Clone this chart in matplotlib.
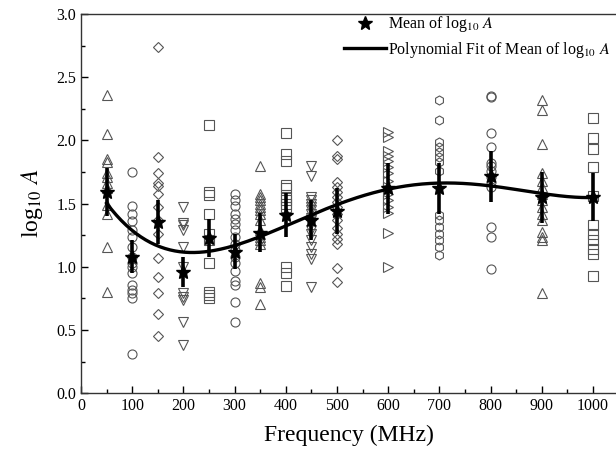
import numpy as np
import matplotlib
matplotlib.use("Agg")
import matplotlib.pyplot as plt
from matplotlib.ticker import MultipleLocator

plt.rcParams['font.family'] = ['Liberation Serif', 'DejaVu Serif']
plt.rcParams['mathtext.fontset'] = 'stix'

# ---- data ----
freqs = [50, 100, 150, 200, 250, 300, 350, 400, 450, 500, 600, 700, 800, 900, 1000]
markers = ['^', 'o', 'D', 'v', 's', 'o', '^', 's', 'v', 'D', '>', 'h', 'o', '^', 's']

f50 = [2.36, 2.05, 1.85, 1.83, 1.74, 1.71, 1.66, 1.62, 1.49, 1.42, 1.16, 0.80]
f100 = [1.75, 1.48, 1.42, 1.36, 1.29, 1.24, 1.16, 1.08, 1.03, 1.00, 0.95, 0.855, 0.815, 0.79, 0.75, 0.31]
f150 = [2.74, 1.87, 1.74, 1.66, 1.64, 1.58, 1.47, 1.37, 1.26, 1.07, 0.92, 0.79, 0.63, 0.45]
f200 = [1.47, 1.35, 1.33, 1.29, 1.16, 1.00, 0.79, 0.76, 0.74, 0.565, 0.38]
f250 = [2.125, 1.59, 1.565, 1.42, 1.26, 1.21, 1.03, 0.80, 0.776, 0.75]
f300 = [1.58, 1.53, 1.48, 1.42, 1.38, 1.34, 1.29, 1.24, 1.18, 1.13, 1.08, 1.03, 0.97, 0.89, 0.855, 0.72, 0.565]
f350 = [1.80, 1.58, 1.55, 1.525, 1.50, 1.47, 1.45, 1.42, 1.37, 1.29, 1.26, 1.24, 1.21, 1.18, 0.87, 0.84, 0.71]
f400 = [2.06, 1.89, 1.84, 1.65, 1.62, 1.55, 1.525, 1.50, 1.47, 1.00, 0.95, 0.85]
f450 = [1.80, 1.72, 1.55, 1.53, 1.50, 1.47, 1.45, 1.42, 1.39, 1.37, 1.34, 1.29, 1.26, 1.21, 1.16, 1.10, 1.065, 0.84]
f500 = [2.00, 1.88, 1.855, 1.67, 1.63, 1.59, 1.55, 1.51, 1.47, 1.42, 1.37, 1.31, 1.26, 1.22, 1.18, 0.99, 0.88]
f600 = [2.065, 2.025, 1.92, 1.88, 1.84, 1.79, 1.74, 1.68, 1.63, 1.58, 1.525, 1.47, 1.43, 1.27, 1.00]
f700 = [2.32, 2.165, 1.985, 1.95, 1.91, 1.87, 1.83, 1.76, 1.41, 1.37, 1.315, 1.26, 1.21, 1.16, 1.09]
f800 = [2.35, 2.34, 2.06, 1.95, 1.82, 1.80, 1.76, 1.71, 1.67, 1.63, 1.315, 1.24, 0.98]
f900 = [2.32, 2.24, 1.97, 1.74, 1.68, 1.63, 1.58, 1.525, 1.47, 1.42, 1.37, 1.275, 1.24, 1.21, 0.79]
f1000 = [2.18, 2.02, 1.93, 1.79, 1.56, 1.33, 1.26, 1.21, 1.145, 1.105, 0.925]
samples = [f50, f100, f150, f200, f250, f300, f350, f400, f450, f500,
           f600, f700, f800, f900, f1000]

means = [1.59, 1.08, 1.355, 0.96, 1.23, 1.12, 1.27, 1.41, 1.37, 1.44,
         1.62, 1.62, 1.715, 1.55, 1.55]
errs = [0.19, 0.13, 0.175, 0.12, 0.15, 0.14, 0.155, 0.175, 0.16, 0.18,
        0.20, 0.20, 0.205, 0.20, 0.19]

label_mean = r'Mean of log$_{10}$ $\mathit{A}$'
label_fit = r'Polynomial Fit of Mean of log$_{10}$ $\mathit{A}$'

# ---- figure ----
fig = plt.figure(figsize=(6.16, 4.53), dpi=100)
ax = fig.add_axes([81 / 616, 1 - 393.3 / 453, (616 - 81) / 616, (393.3 - 14) / 453])

for f, m, vals in zip(freqs, markers, samples):
    ax.plot([f] * len(vals), vals, linestyle='none', marker=m, markersize=6.5 if m != 'D' else 5.5,
            markerfacecolor='none', markeredgecolor='#555555', markeredgewidth=0.8, zorder=2)

ax.errorbar(freqs, means, yerr=errs, fmt='none', ecolor='black', elinewidth=2.6, capsize=0, zorder=3)
ax.plot(freqs, means, linestyle='none', marker='*', markersize=10.5, color='black', zorder=4, label=label_mean)

coef = np.polyfit(freqs, means, 4)
xf = np.linspace(50, 1000, 300)
ax.plot(xf, np.polyval(coef, xf), color='black', linewidth=2.4, zorder=5, label=label_fit)

ax.set_xlim(0, 1045)
ax.set_ylim(0, 3.0)
ax.xaxis.set_major_locator(MultipleLocator(100))
ax.xaxis.set_minor_locator(MultipleLocator(50))
ax.yaxis.set_major_locator(MultipleLocator(0.5))
ax.yaxis.set_minor_locator(MultipleLocator(0.25))
ax.yaxis.set_major_formatter(matplotlib.ticker.FormatStrFormatter('%.1f'))
ax.tick_params(which='major', direction='in', length=5, width=1, labelsize=11.5, top=False, right=False)
ax.tick_params(which='minor', direction='in', length=3, width=1, top=False, right=False)
ax.spines['right'].set_visible(False)
for s in ('left', 'bottom', 'top'):
    ax.spines[s].set_linewidth(1.0)
    ax.spines[s].set_color('#333333')

ax.set_xlabel('Frequency (MHz)', fontsize=17, labelpad=8)
ax.set_ylabel(r'log$_{10}$ $\mathit{A}$', fontsize=17, labelpad=8)

ax.legend(loc='upper right', bbox_to_anchor=(1.008, 1.025), frameon=False, fontsize=11.5,
          handlelength=2.6, labelspacing=0.35, handletextpad=0.15, borderaxespad=0.2)

fig.savefig('out.png', dpi=100)
